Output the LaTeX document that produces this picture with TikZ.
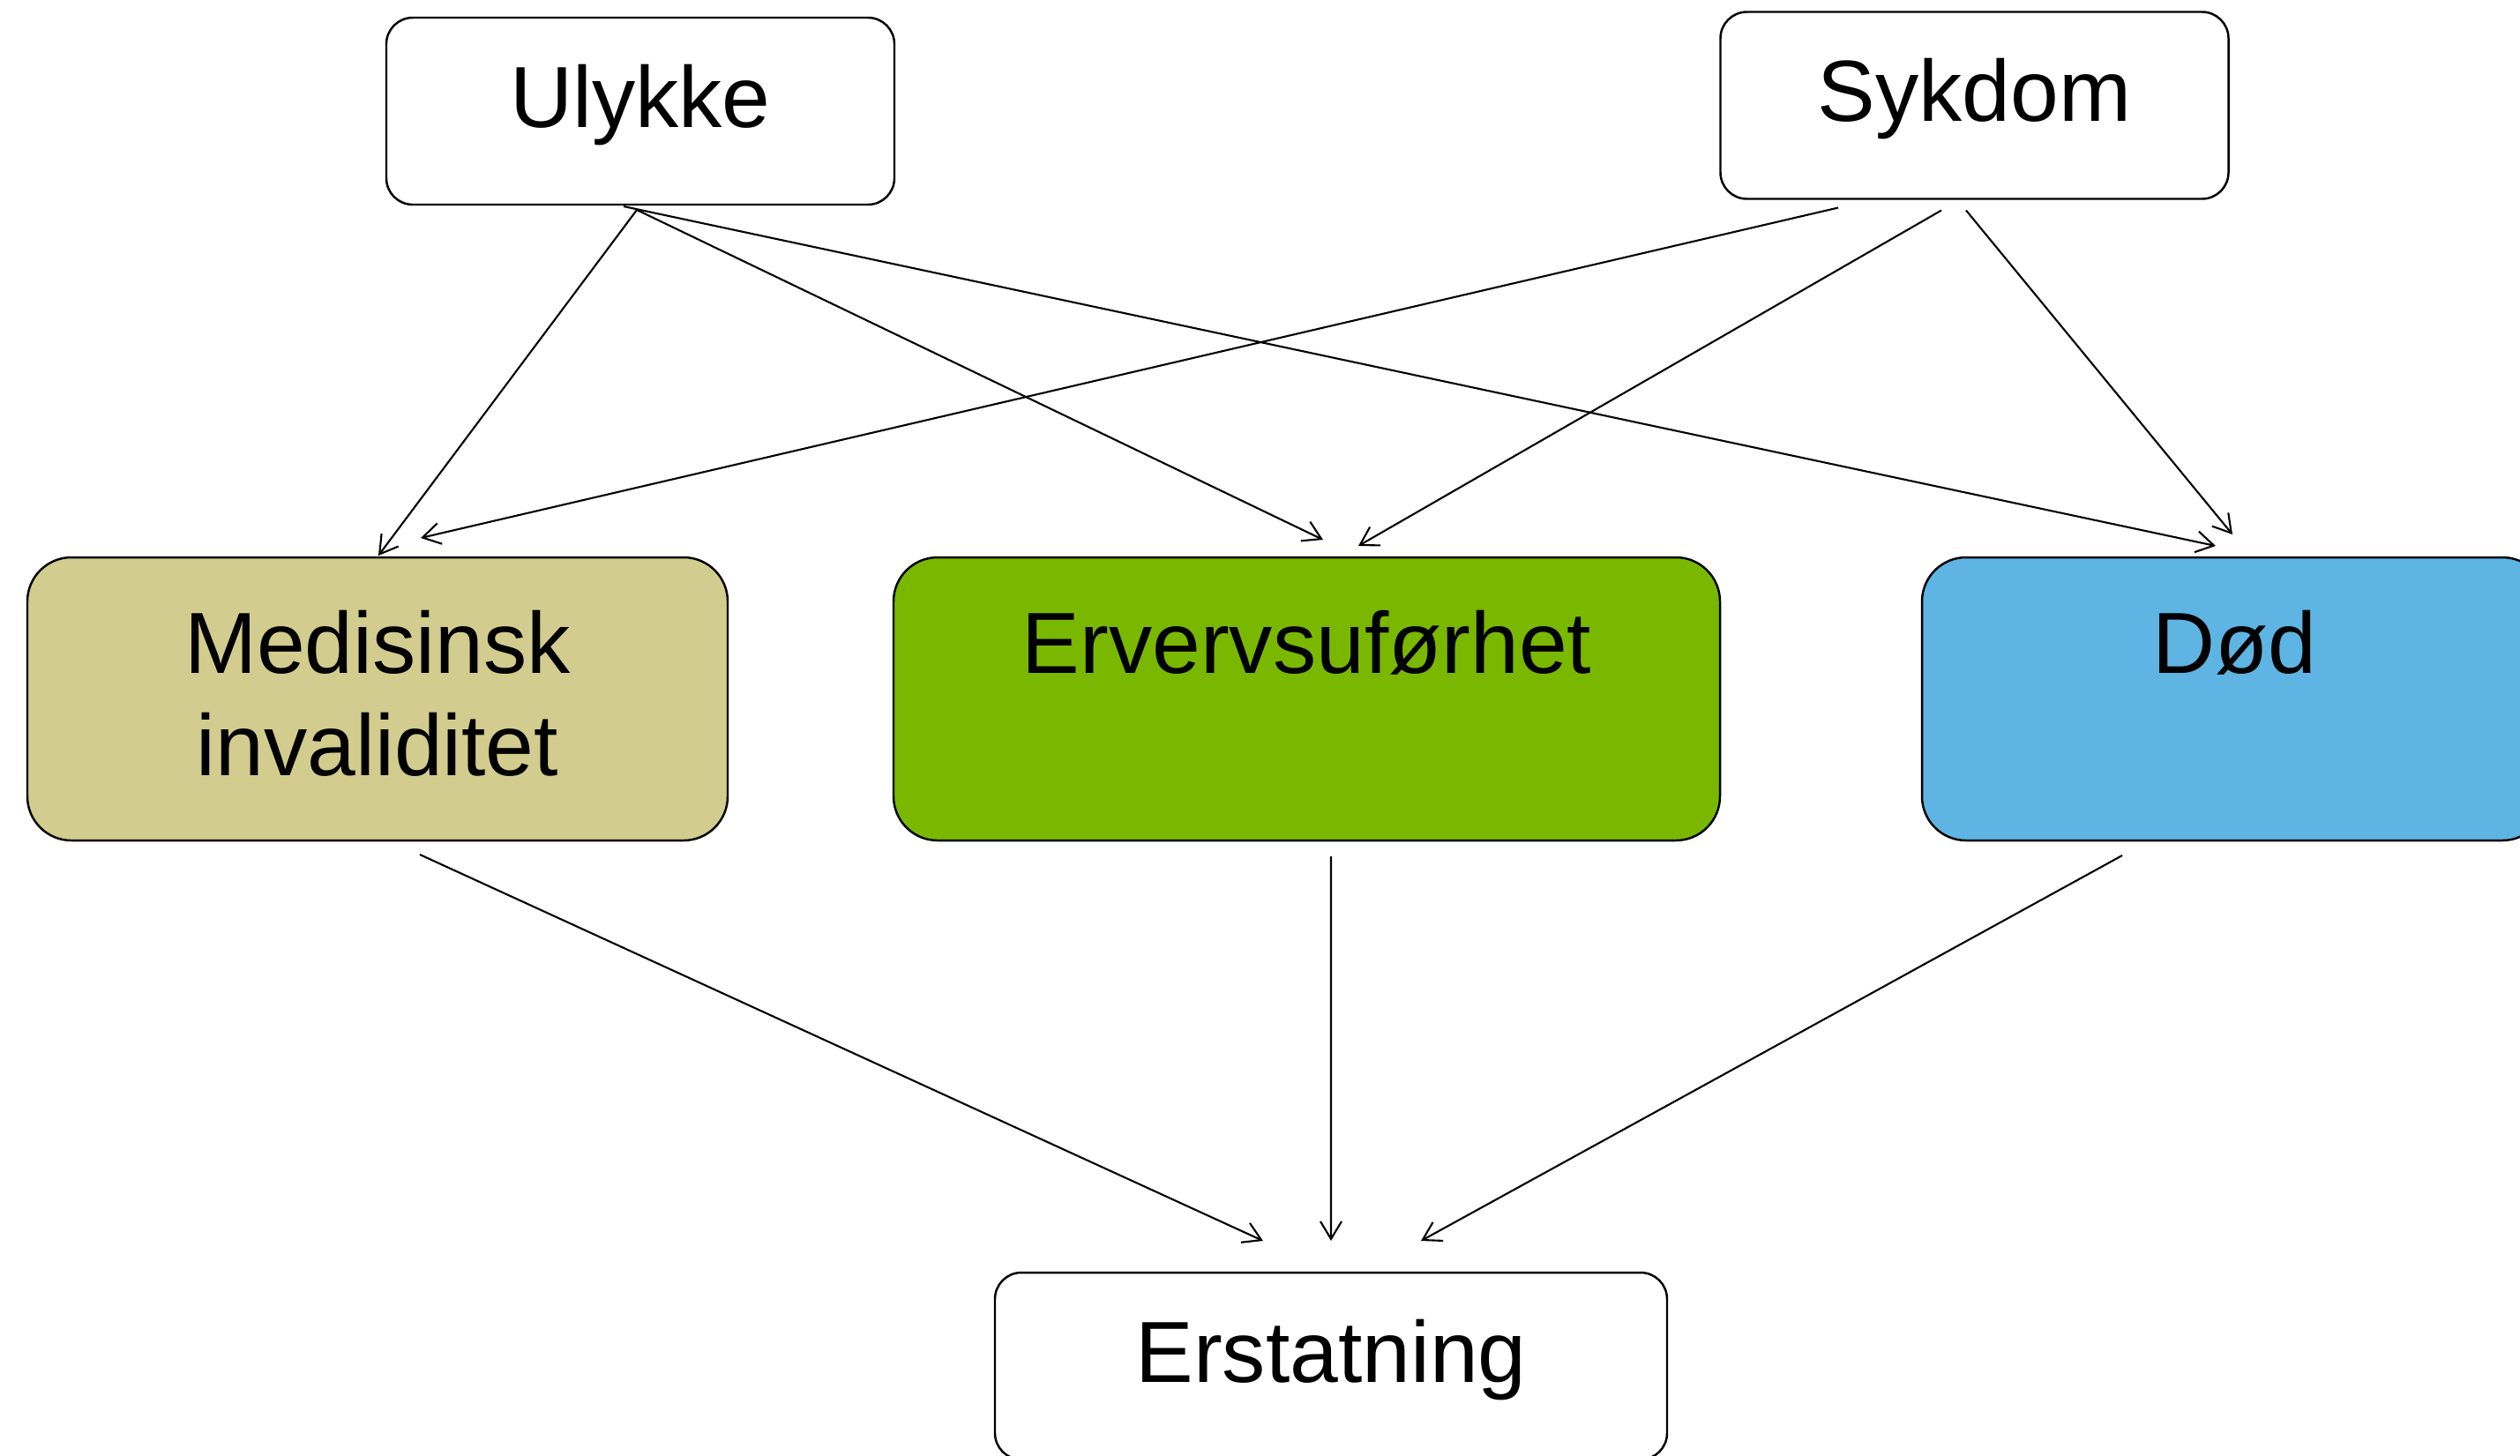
\documentclass[tikz,border=0pt]{standalone}
\usepackage{fontspec}
\setmainfont{Liberation Sans}
\usetikzlibrary{positioning, arrows.meta}
\definecolor{khaki1}{RGB}{210,204,142}
\definecolor{green1}{RGB}{122,184,0}
\definecolor{blue1}{RGB}{94,180,226}
\tikzset{
  box1/.style = {
    shape = rectangle,
    draw = black,
    line width = 0.7pt,
    rounded corners = 3mm,
    align = center,
    inner sep = 0pt,
    outer sep = 0pt,
    minimum width = 5.76cm,
    minimum height = 2.12cm,
    text depth = 0.35cm,
    font = \fontsize{28}{33}\selectfont,
  }
}
\tikzset{
  box2/.style = {
    box1,
    rounded corners = 5mm,
    minimum height = 3.21cm,
    text depth = 0.14cm,
  }
}
\tikzset{
  arrow1/.style = {
    draw = black, line width = 0.6pt, -{Straight Barb[length = 2mm, width = 2.4mm]},
  }
}

\begin{document}
\begin{tikzpicture}
        \useasboundingbox (0,0) rectangle (28.57,-16.5);
        \node[box1](ulykke) at (7.26,-1.26){Ulykke};
        \node[box1](sykdom) at (22.385,-1.195){Sykdom};
        \node[box2, fill = khaki1, minimum width = 7.94cm](med) at (4.28,-7.925){Medisinsk\\invaliditet};
        \node[box2, fill = green1, minimum width = 9.37cm, right=1.88cm of med](erverv){Ervervsuførhet\\\mbox{}};
        \node[box2, fill = blue1, minimum width = 7.08cm, right=2.29cm of erverv](dod){Død\\\mbox{}};
        \node[box1, minimum width = 7.62cm](erst) at (15.09,-15.49){Erstatning};
        \draw[arrow1]([xshift=-0.04cm, yshift=-0.06cm]ulykke.south) -- ([xshift=0.01cm, yshift=0.02cm]med.north);
        \draw[arrow1]([xshift=-0.04cm, yshift=-0.06cm]ulykke.south) -- ([xshift=0.185cm, yshift=0.2cm]erverv.north);
        \draw[arrow1]([xshift=-0.19cm, yshift=-0.02cm]ulykke.south) -- ([xshift=-0.21cm, yshift=0.13cm]dod.north);
        \draw[arrow1]([xshift=-1.545cm, yshift=-0.1cm]sykdom.south) -- ([xshift=0.49cm, yshift=0.22cm]med.north);
        \draw[arrow1]([xshift=-0.375cm, yshift=-0.13cm]sykdom.south) -- ([xshift=0.585cm, yshift=0.13cm]erverv.north);
        \draw[arrow1]([xshift=-0.095cm, yshift=-0.13cm]sykdom.south) -- ([xshift=-0.02cm, yshift=0.26cm]dod.north);
        \draw[arrow1]([xshift=0.48cm, yshift=-0.16cm]med.south) -- ([xshift=-0.77cm, yshift=0.36cm]erst.north);
        \draw[arrow1]([xshift=0.275cm, yshift=-0.18cm]erverv.south) -- ([yshift=0.36cm]erst.north);
        \draw[arrow1]([xshift=-1.27cm, yshift=-0.17cm]dod.south) -- ([xshift=1.02cm, yshift=0.36cm]erst.north);
    \end{tikzpicture}
\end{document}
